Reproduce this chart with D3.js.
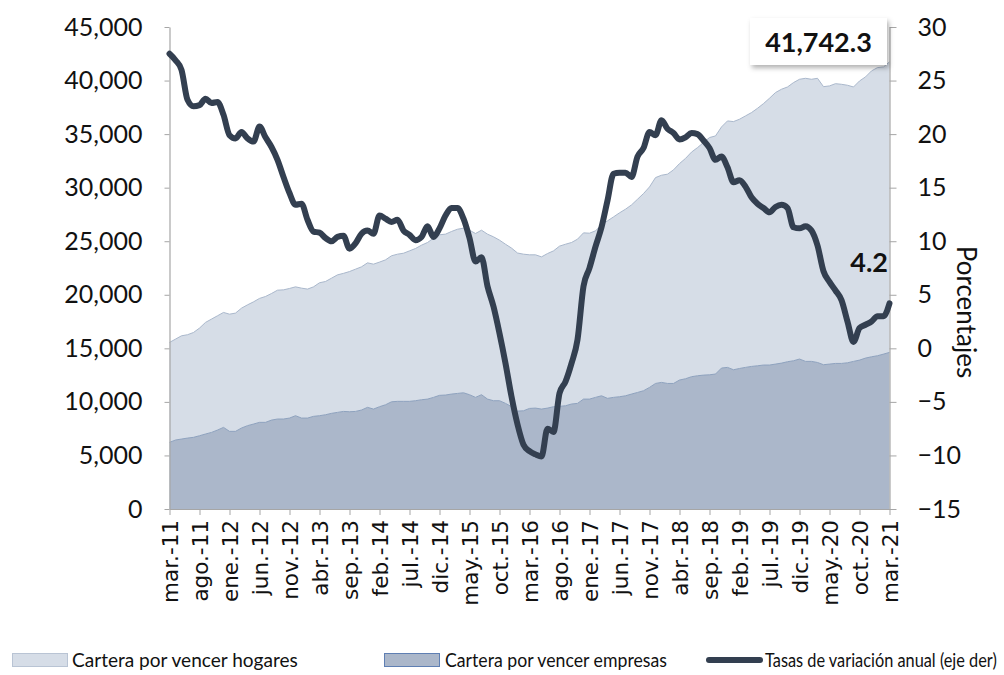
<!DOCTYPE html>
<html lang="es">
<head>
<meta charset="utf-8">
<title>Cartera por vencer</title>
<script src="https://cdn.jsdelivr.net/npm/d3@7"></script>
<style>
  html, body { margin: 0; padding: 0; background: #ffffff; }
  svg { display: block; }
</style>
</head>
<body>
<svg id="chart" width="1004" height="675"></svg>
<script>
// Meses en español (abreviaturas usadas en el eje)
const mesesAbrev = ["ene.", "feb.", "mar.", "abr.", "may.", "jun.", "jul.", "ago.", "sep.", "oct.", "nov.", "dic."];
const inicioAnio = 2011, inicioMes = 2, numMeses = 121;   // mar-2011 .. mar-2021
const pasoEtiquetas = 5;

// Cartera por vencer de empresas (millones de pesos)
const empresas = [
  6220, 6440, 6530, 6620, 6690, 6840, 7000, 7150, 7370, 7620,
  7250, 7250, 7560, 7780, 7930, 8090, 8090, 8300, 8400, 8400,
  8490, 8710, 8490, 8490, 8650, 8710, 8800, 8930, 9020, 9110,
  9080, 9110, 9240, 9490, 9330, 9550, 9730, 10010, 10050, 10050,
  10050, 10110, 10200, 10260, 10420, 10610, 10640, 10730, 10790, 10850,
  10670, 10420, 10670, 10260, 10110, 10110, 9860, 9560, 9140, 9170,
  9390, 9420, 9330, 9420, 9550, 9580, 9640, 9800, 9860, 10260,
  10260, 10420, 10570, 10330, 10420, 10480, 10570, 10730, 10880, 11040,
  11350, 11720, 11820, 11720, 11720, 12040, 12160, 12350, 12440, 12500,
  12530, 12600, 13160, 13220, 13000, 13120, 13220, 13310, 13370, 13440,
  13440, 13530, 13620, 13750, 13840, 14000, 13780, 13780, 13680, 13470,
  13530, 13590, 13590, 13650, 13780, 13900, 14090, 14210, 14310, 14460,
  14620
];

// Cartera por vencer de hogares (millones de pesos)
const hogares = [
  9330, 9420, 9640, 9650, 9790, 10050, 10420, 10580, 10670, 10730,
  10940, 11040, 11190, 11280, 11410, 11570, 11750, 11820, 12030, 12060,
  12100, 12030, 12130, 12040, 12090, 12410, 12440, 12620, 12840, 12890,
  13090, 13280, 13370, 13490, 13530, 13500, 13530, 13630, 13740, 13830,
  14050, 14210, 14430, 14620, 14860, 14990, 15020, 15180, 15330, 15370,
  15360, 15300, 15360, 15400, 15300, 14990, 14860, 14800, 14760, 14620,
  14340, 14310, 14210, 14430, 14550, 14960, 15080, 15080, 15330, 15520,
  15490, 15550, 15960, 16570, 16850, 17170, 17420, 17660, 18040, 18410,
  18720, 19220, 19340, 19540, 19940, 20210, 20570, 20970, 21300, 21710,
  22150, 22230, 22510, 23010, 23170, 23270, 23480, 23700, 24040, 24410,
  24910, 25350, 25570, 25650, 25970, 26120, 26430, 26340, 26530, 25960,
  25970, 26120, 26060, 25910, 25620, 26060, 26250, 26690, 26900, 26810,
  27122.3
];

// Tasa de variación anual del total (porcentaje, eje derecho)
const tasaAnual = [
  27.5, 26.9, 26.0, 23.2, 22.6, 22.7, 23.3, 22.9, 23.0, 21.8,
  19.9, 19.6, 20.2, 19.6, 19.3, 20.7, 19.7, 18.8, 17.6, 16.0,
  14.5, 13.4, 13.5, 12.0, 10.9, 10.8, 10.3, 10.0, 10.4, 10.5,
  9.3, 9.8, 10.7, 11.0, 10.7, 12.4, 12.1, 11.8, 12.0, 11.0,
  10.6, 10.1, 10.4, 11.4, 10.4, 11.2, 12.4, 13.1, 13.1, 12.1,
  10.3, 8.1, 8.5, 5.8, 3.9, 1.4, -1.4, -4.5, -7.1, -9.0,
  -9.6, -9.9, -10.1, -7.5, -7.8, -4.2, -3.1, -1.4, 0.8, 5.8,
  7.5, 9.5, 11.3, 13.8, 16.3, 16.4, 16.4, 16.0, 17.9, 18.7,
  20.2, 19.9, 21.3, 20.5, 20.1, 19.5, 19.7, 20.1, 20.0, 19.4,
  18.7, 17.6, 17.9, 16.9, 15.5, 15.7, 15.1, 14.1, 13.5, 13.1,
  12.7, 13.2, 13.4, 13.1, 11.3, 11.2, 11.4, 11.0, 9.6, 7.2,
  6.2, 5.4, 4.5, 2.5, 0.6, 1.9, 2.2, 2.5, 3.0, 3.0,
  4.2
];

// Ticks de los ejes
const ticksIzq = [0, 5000, 10000, 15000, 20000, 25000, 30000, 35000, 40000, 45000];
const ticksDer = [-15, -10, -5, 0, 5, 10, 15, 20, 25, 30];

// Nombres de series
const nombreHogares = "Cartera por vencer hogares";
const nombreEmpresas = "Cartera por vencer empresas";
const nombreTasa = "Tasas de variación anual (eje der)";
const tituloDer = "Porcentajes";

// ---- categorías de meses ----
const meses = d3.range(numMeses).map(i => {
  const m = (inicioMes + i) % 12;
  const a = inicioAnio + Math.floor((inicioMes + i) / 12);
  return mesesAbrev[m] + "-" + String(a).slice(2);
});

const filas = meses.map((mes, i) => ({
  mes, empresas: empresas[i], hogares: hogares[i], tasa: tasaAnual[i]
}));

const svg = d3.select("#chart");
const FONT = "Lato, 'Open Sans', sans-serif";

const plot = { left: 169.5, right: 889.5, top: 27, bottom: 509 };

const x = d3.scalePoint().domain(meses).range([plot.left, plot.right]);
const yL = d3.scaleLinear().domain([0, 45000]).range([plot.bottom, plot.top]);
const yR = d3.scaleLinear().domain([-15, 30]).range([plot.bottom, plot.top]);

// ---- áreas apiladas ----
const pila = d3.stack().keys(["empresas", "hogares"])(filas);
const colores = {
  empresas: { fill: "#abb7ca", stroke: "#8ea2be" },
  hogares:  { fill: "#d6dde7", stroke: "#aab8cc" }
};
const area = d3.area()
  .x(d => x(d.data.mes))
  .y0(d => yL(d[0]))
  .y1(d => yL(d[1]));
const borde = d3.line()
  .x(d => x(d.data.mes))
  .y(d => yL(d[1]));

const gArea = svg.append("g");
// hogares (parte superior) primero, empresas encima
[pila[1], pila[0]].forEach(s => {
  gArea.append("path").attr("d", area(s)).attr("fill", colores[s.key].fill);
  gArea.append("path").attr("d", borde(s)).attr("fill", "none")
    .attr("stroke", colores[s.key].stroke).attr("stroke-width", 1);
});

// ---- ejes ----
const gIzq = svg.append("g")
  .attr("transform", `translate(${plot.left},0)`)
  .call(d3.axisLeft(yL).tickValues(ticksIzq).tickFormat(d3.format(","))
    .tickSize(5).tickSizeOuter(0).tickPadding(22));
const gDer = svg.append("g")
  .attr("transform", `translate(${plot.right},0)`)
  .call(d3.axisRight(yR).tickValues(ticksDer).tickFormat(d3.format("d"))
    .tickSize(7).tickSizeOuter(0).tickPadding(21));
const etiquetasX = meses.filter((m, i) => i % pasoEtiquetas === 0);
const gX = svg.append("g")
  .attr("transform", `translate(0,${plot.bottom})`)
  .call(d3.axisBottom(x).tickValues(etiquetasX).tickSize(6).tickSizeOuter(0));

[gIzq, gDer, gX].forEach(g => {
  g.select(".domain").attr("stroke", "#a6a6a6").attr("stroke-width", 1.2);
  g.selectAll(".tick line").attr("stroke", "#a6a6a6");
});
[gIzq, gDer].forEach(g => g.selectAll(".tick text")
  .attr("font-family", FONT).attr("font-size", 25).attr("fill", "#111"));
gX.selectAll(".tick text")
  .attr("font-family", "'DejaVu Sans', Verdana, sans-serif")
  .attr("font-size", 21.5)
  .attr("fill", "#111")
  .attr("transform", "rotate(-90)")
  .attr("x", -11).attr("y", 0).attr("dy", "0.36em")
  .style("text-anchor", "end");

// título eje derecho
svg.append("text")
  .attr("transform", `translate(957,${312}) rotate(90)`)
  .attr("text-anchor", "middle")
  .attr("font-family", FONT).attr("font-size", 26).attr("fill", "#111")
  .text(tituloDer);

// ---- línea de tasa anual ----
const linea = d3.line()
  .x(d => x(d.mes))
  .y(d => yR(d.tasa))
  .curve(d3.curveMonotoneX);
svg.append("path")
  .datum(filas)
  .attr("d", linea)
  .attr("fill", "none")
  .attr("stroke", "#333f50")
  .attr("stroke-width", 6)
  .attr("stroke-linejoin", "round")
  .attr("stroke-linecap", "round");

// ---- anotaciones ----
const ultimo = filas[filas.length - 1];
const totalUltimo = ultimo.empresas + ultimo.hogares;

const defs = svg.append("defs");
const sombra = defs.append("filter").attr("id", "sombra")
  .attr("x", "-10%").attr("y", "-10%").attr("width", "130%").attr("height", "140%");
sombra.append("feDropShadow").attr("dx", 2).attr("dy", 3)
  .attr("stdDeviation", 2.5).attr("flood-color", "#000").attr("flood-opacity", 0.3);

const caja = svg.append("g");
caja.append("rect")
  .attr("x", 750).attr("y", 18).attr("width", 137).attr("height", 47)
  .attr("fill", "#ffffff").attr("filter", "url(#sombra)");
caja.append("text")
  .attr("x", 818.5).attr("y", 52)
  .attr("text-anchor", "middle")
  .attr("font-family", FONT).attr("font-weight", 700).attr("font-size", 27)
  .attr("fill", "#111")
  .text(d3.format(",.1f")(totalUltimo));

svg.append("text")
  .attr("x", 888).attr("y", 272)
  .attr("text-anchor", "end")
  .attr("font-family", FONT).attr("font-weight", 700).attr("font-size", 27)
  .attr("fill", "#111")
  .text(d3.format(".1f")(ultimo.tasa));

// ---- leyenda ----
const yLeyenda = 660;
const leyenda = svg.append("g").attr("font-family", FONT).attr("font-size", 19).attr("fill", "#111");
const items = [
  { tipo: "area", fill: colores.hogares.fill, stroke: "#b9c4d4", x: 12, texto: nombreHogares, tx: 72, tw: 226 },
  { tipo: "area", fill: colores.empresas.fill, stroke: "#5f7fb3", x: 384, texto: nombreEmpresas, tx: 445, tw: 222 },
  { tipo: "linea", x: 706, texto: nombreTasa, tx: 765, tw: 232 }
];
items.forEach(it => {
  if (it.tipo === "area") {
    leyenda.append("rect")
      .attr("x", it.x + 0.5).attr("y", yLeyenda - 6.5).attr("width", 55).attr("height", 13)
      .attr("fill", it.fill).attr("stroke", it.stroke).attr("stroke-width", 1);
  } else {
    leyenda.append("line")
      .attr("x1", it.x + 3).attr("x2", it.x + 54).attr("y1", yLeyenda).attr("y2", yLeyenda)
      .attr("stroke", "#333f50").attr("stroke-width", 6).attr("stroke-linecap", "round");
  }
  // texto condensado horizontalmente para ocupar el ancho indicado
  const t = leyenda.append("text").attr("x", 0).attr("y", 0).text(it.texto);
  const natural = t.node().getComputedTextLength();
  const sx = it.tw / natural;
  t.attr("transform", `translate(${it.tx},${yLeyenda + 6.5}) scale(${sx},1)`);
});
</script>
</body>
</html>
